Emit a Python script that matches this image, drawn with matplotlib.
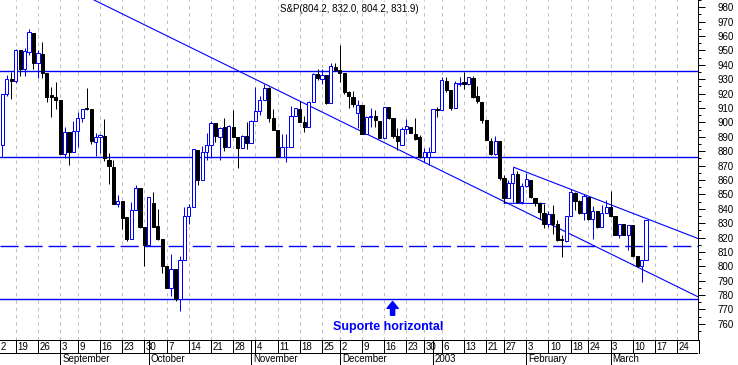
import matplotlib
matplotlib.use("Agg")
import matplotlib.pyplot as plt
import numpy as np
import pandas as pd
from matplotlib.patches import Rectangle

plt.rcParams['font.family'] = ['Liberation Sans', 'DejaVu Sans']
plt.rcParams['lines.scale_dashes'] = False

BLUE = '#0000ff'

# ---------------- data ----------------
holidays = ['2002-09-02', '2002-11-28', '2002-12-25', '2003-01-01', '2003-01-20', '2003-02-17']
first_candle = '2002-08-14'

opens = [884.3, 919.6, 930.0, 928.4, 950.1, 937.4, 949.2, 961.9, 940.9, 947.6,
         934.4, 918.7, 917.8, 915.7, 877.8, 893.5, 879.2, 894.2, 903.0, 909.9,
         909.2, 886.2, 889.6, 890.8, 873.5, 869.3, 843.2, 845.1, 834.2, 819.2,
         839.3, 854.5, 827.3, 814.6, 843.7, 827.8, 818.8, 800.1, 785.1, 798.4,
         777.0, 804.2, 834.7, 841.2, 881.1, 860.1, 879.2, 884.3, 899.5, 889.6,
         896.5, 882.7, 896.5, 890.1, 882.0, 890.8, 885.5, 901.2, 908.1, 915.7,
         924.2, 902.8, 894.7, 876.2, 882.7, 883.2, 904.4, 909.2, 900.0, 896.5,
         914.3, 933.5, 930.0, 933.0, 913.2, 938.5, 936.5, 934.6, 920.8, 917.8,
         906.2, 912.0, 891.9, 903.5, 904.4, 901.2, 889.2, 910.4, 903.0, 890.8,
         884.3, 895.4, 897.0, 891.9, 889.6, 875.8, 875.8, 879.2, 909.2, 908.5,
         928.9, 922.6, 909.9, 926.5, 927.7, 926.5, 930.7, 918.5, 914.3, 901.9,
         887.3, 878.1, 887.3, 861.2, 847.4, 858.0, 864.2, 844.6, 855.5, 860.1,
         847.6, 843.9, 837.2, 829.6, 836.1, 829.1, 818.8, 817.6, 834.9, 850.8,
         845.1, 837.0, 848.1, 832.6, 838.2, 827.3, 837.2, 841.2, 834.7, 822.0,
         829.6, 822.0, 828.5, 807.0, 800.3, 804.2]
highs = [919.6, 933.0, 935.3, 950.8, 950.1, 951.5, 964.9, 961.9, 950.1, 955.9,
         934.4, 924.7, 928.2, 915.7, 896.5, 893.5, 901.2, 907.4, 909.2, 924.0,
         909.2, 892.6, 891.9, 902.5, 879.0, 873.5, 849.2, 845.1, 834.2, 844.6,
         856.8, 854.5, 827.3, 848.3, 851.8, 839.8, 818.8, 800.1, 808.8, 798.4,
         807.0, 841.2, 843.5, 881.5, 881.1, 883.8, 892.6, 901.2, 899.5, 896.5,
         903.0, 898.5, 908.5, 890.1, 891.5, 900.0, 901.6, 924.7, 918.5, 926.5,
         924.7, 909.2, 894.7, 891.9, 891.9, 911.5, 909.9, 915.0, 904.6, 915.0,
         934.6, 936.9, 936.9, 933.0, 940.9, 941.5, 953.8, 934.6, 921.5, 921.5,
         915.5, 912.0, 904.6, 909.9, 908.5, 901.2, 910.9, 910.9, 903.0, 896.1,
         897.0, 902.3, 897.0, 903.0, 891.5, 882.0, 882.7, 909.2, 910.9, 931.2,
         931.2, 922.6, 928.9, 931.2, 935.3, 931.6, 932.3, 925.4, 914.3, 901.9,
         889.2, 890.3, 887.3, 863.1, 860.1, 868.8, 866.1, 858.0, 864.7, 860.1,
         847.6, 844.6, 843.5, 838.4, 842.8, 831.9, 821.5, 834.9, 853.8, 851.5,
         845.8, 850.4, 848.1, 841.6, 838.2, 842.3, 845.8, 852.0, 834.7, 829.6,
         829.6, 828.9, 828.5, 807.0, 804.2, 832.0]
lows = [876.2, 918.5, 915.9, 927.5, 932.3, 931.9, 947.1, 937.4, 930.5, 930.7,
        913.9, 903.5, 909.2, 877.8, 875.5, 870.7, 879.2, 882.7, 900.0, 908.5,
        884.8, 876.9, 878.5, 873.0, 857.1, 843.2, 840.9, 825.7, 817.8, 819.2,
        839.3, 826.6, 800.1, 813.9, 827.3, 818.1, 795.0, 785.1, 779.5, 776.1,
        769.1, 804.2, 829.6, 841.2, 856.4, 860.1, 873.5, 875.3, 886.2, 873.5,
        879.9, 882.7, 889.6, 868.4, 882.0, 881.5, 885.5, 901.2, 905.1, 915.7,
        900.0, 894.7, 875.8, 876.2, 872.5, 883.2, 904.4, 900.0, 893.1, 896.5,
        914.3, 929.3, 926.5, 912.7, 913.2, 935.8, 927.7, 919.6, 909.7, 910.4,
        896.1, 891.9, 891.9, 897.0, 897.0, 889.2, 889.2, 902.3, 889.2, 880.8,
        884.3, 891.9, 892.6, 888.0, 875.3, 872.3, 870.7, 879.2, 903.5, 908.5,
        920.8, 908.8, 909.9, 925.2, 922.9, 926.1, 916.8, 913.2, 899.5, 887.8,
        877.6, 877.6, 860.1, 843.9, 847.4, 844.6, 843.9, 843.5, 855.0, 847.6,
        841.8, 833.1, 826.8, 827.3, 822.7, 817.6, 806.5, 816.9, 834.9, 838.8,
        836.5, 832.4, 831.9, 819.0, 826.8, 827.3, 837.0, 834.2, 821.5, 819.7,
        821.5, 811.1, 806.5, 800.1, 789.2, 804.2]
closes = [919.6, 930.0, 928.4, 950.1, 937.4, 949.6, 962.6, 940.9, 948.0, 934.6,
          917.8, 917.8, 915.7, 877.8, 893.5, 879.2, 894.2, 903.0, 909.2, 909.0,
          886.8, 890.1, 891.2, 875.3, 869.5, 843.2, 845.5, 833.8, 818.8, 839.3,
          854.5, 827.3, 814.6, 848.3, 827.3, 818.8, 800.3, 785.1, 798.4, 777.0,
          804.2, 834.7, 841.2, 881.5, 860.1, 879.2, 884.3, 899.5, 890.3, 896.1,
          883.2, 897.5, 890.1, 882.0, 890.8, 885.5, 901.2, 908.1, 915.7, 923.8,
          902.8, 894.7, 876.2, 883.2, 883.2, 904.4, 909.9, 900.0, 896.5, 914.3,
          933.5, 930.7, 933.0, 913.2, 939.2, 936.5, 934.6, 920.8, 918.0, 912.7,
          912.0, 891.9, 903.9, 904.4, 901.6, 889.2, 910.4, 903.0, 890.8, 886.8,
          895.4, 897.5, 892.6, 888.5, 875.8, 879.2, 879.7, 909.2, 908.5, 929.5,
          922.6, 909.9, 927.2, 927.5, 926.5, 931.6, 917.8, 914.5, 901.9, 887.8,
          878.1, 887.3, 861.2, 847.4, 858.0, 864.2, 844.6, 855.5, 860.8, 848.1,
          843.9, 837.7, 829.6, 836.1, 829.1, 818.1, 818.1, 834.9, 851.3, 845.1,
          837.0, 848.5, 832.6, 838.4, 827.3, 837.2, 841.2, 834.9, 822.0, 829.6,
          822.0, 828.9, 807.0, 800.3, 804.2, 831.9]

h_lines = [935.6, 876.0, 777.0]
h_dashed = [814.4]
# trend lines: (trading-day position, value) pairs
trend_long = [(53.5, 935.2), (156.7, 778.8)]
trend_upper = [(115.2, 868.8), (156.7, 819.3)]
trend_short = [(113.0, 843.8), (122.2, 843.6)]

title_text = 'S&P(804.2, 832.0, 804.2, 831.9)'
note_text = 'Suporte horizontal'
month_names = {9: 'September', 10: 'October', 11: 'November', 12: 'December',
               1: '2003', 2: 'February', 3: 'March'}
y_labels = list(range(760, 990, 10))

# ---------------- calendar ----------------
cal = pd.bdate_range('2002-08-12', '2003-03-31')
cal = [d for d in cal if d.strftime('%Y-%m-%d') not in holidays]
base = [d.strftime('%Y-%m-%d') for d in cal].index(first_candle)
cal_pos = {d: i - base for i, d in enumerate(cal)}

week_ticks = []
seen = set()
for d in cal:
    k = d.isocalendar()[:2]
    if k not in seen:
        seen.add(k)
        week_ticks.append(d)
month_ticks = []
seenm = set()
for d in cal:
    k = (d.year, d.month)
    if k not in seenm:
        seenm.add(k)
        month_ticks.append(d)

# ---------------- figure ----------------
W, H = 738, 365
fig = plt.figure(figsize=(W / 100, H / 100), dpi=100)
ax = fig.add_axes([0, 25 / H, 698 / W, 340 / H])
axd = fig.add_axes([0, 0, 698 / W, 25 / H])

XL = (-0.54, 156.7)
YL = (748.8, 984.3)
ax.set_xlim(*XL)
ax.set_ylim(*YL)

px = 0.72  # one pixel in points

# grid
for d in week_ticks:
    ax.axvline(cal_pos[d], color='#bdbdbd', lw=px, linestyle=(0, (2.4, 2.9)), zorder=0)

# horizontal lines
for v in h_lines:
    ax.axhline(v, color=BLUE, lw=1.0, zorder=2)
for v in h_dashed:
    ax.axhline(v, color=BLUE, lw=1.0, linestyle=(0, (13, 4.3)), zorder=2)

# trend lines
ax.axline(trend_long[0], trend_long[1], color=BLUE, lw=0.8, zorder=2)
(x0, y0), (x1, y1) = trend_upper
ax.plot([x0, x1], [y0, y1], color=BLUE, lw=0.8, zorder=2)
(x0, y0), (x1, y1) = trend_short
ax.plot([x0, x1], [y0, y1], color=BLUE, lw=0.8, zorder=2)

# candles
o = np.array(opens); h = np.array(highs); l = np.array(lows); c = np.array(closes)
pos = np.arange(len(o))
up = c > o
ax.vlines(pos[up], l[up], h[up], color=BLUE, lw=px, zorder=3)
ax.vlines(pos[~up], l[~up], h[~up], color='black', lw=px, zorder=3)
bw = 0.72
for p, oo, cc, u in zip(pos, o, c, up):
    lo = min(oo, cc)
    hgt = max(abs(cc - oo), 0.5)
    if u:
        r = Rectangle((p - bw / 2, lo), bw, hgt, facecolor='white', edgecolor=BLUE, lw=px, zorder=4)
    else:
        r = Rectangle((p - bw / 2, lo), bw, hgt, facecolor='black', edgecolor='black', lw=px, zorder=4)
    ax.add_patch(r)

# axes styling
for s in ['left', 'top']:
    ax.spines[s].set_visible(False)
ax.spines['right'].set_linewidth(px)
ax.spines['bottom'].set_linewidth(px)
ax.set_xticks([])
ax.yaxis.tick_right()
ax.set_yticks(y_labels)
ax.set_yticklabels([str(v) for v in y_labels], fontsize=7)
ax.set_yticks([v + 5 for v in range(750, 985, 10)], minor=True)
ax.tick_params(axis='y', which='major', length=4.8, width=px, pad=9.5, direction='out')
ax.tick_params(axis='y', which='minor', length=2.4, width=px, direction='out')

# title
fig.text(349.7 / W, 1 - 8.5 / H, title_text, ha='center', va='center', fontsize=7)

# arrow + note
arrow_pos = 87.9
ax.annotate('', xy=(arrow_pos, 775.6), xytext=(arrow_pos, 766.0),
            arrowprops=dict(arrowstyle='simple,head_length=0.5,head_width=0.8,tail_width=0.3',
                            color=BLUE, shrinkA=0, shrinkB=0, mutation_scale=10), zorder=5)
ax.text(86.9, 757.6, note_text, color=BLUE, fontsize=9, fontweight='bold',
        ha='center', va='center', zorder=5)

# date axis
axd.set_xlim(*XL)
axd.set_ylim(0, 25)
axd.axis('off')
axd.axhline(12.3, color='black', lw=px)
axd.axhline(24.8, color='black', lw=px)
axd.axvline(XL[1], ymin=12.3 / 25, ymax=1, color='black', lw=px)
for d in week_ticks:
    p = cal_pos[d]
    axd.plot([p, p], [12.3, 25], color='black', lw=px, clip_on=False)
    label = str(d.day)
    lx = p + 0.35
    if lx < XL[0]:
        # only the last digit of a label cut by the left edge is visible
        label = label[-1]
        lx = XL[0] + 0.05
    axd.text(lx, 18.4, label, fontsize=7, ha='left', va='center', clip_on=True)
for d in month_ticks:
    if d.month not in month_names:
        continue
    p = cal_pos[d]
    axd.plot([p, p], [0, 25], color='black', lw=px)
    axd.text(p + 0.45, 5.6, month_names[d.month], fontsize=7, ha='left', va='center')

fig.savefig('out.png', dpi=100)
